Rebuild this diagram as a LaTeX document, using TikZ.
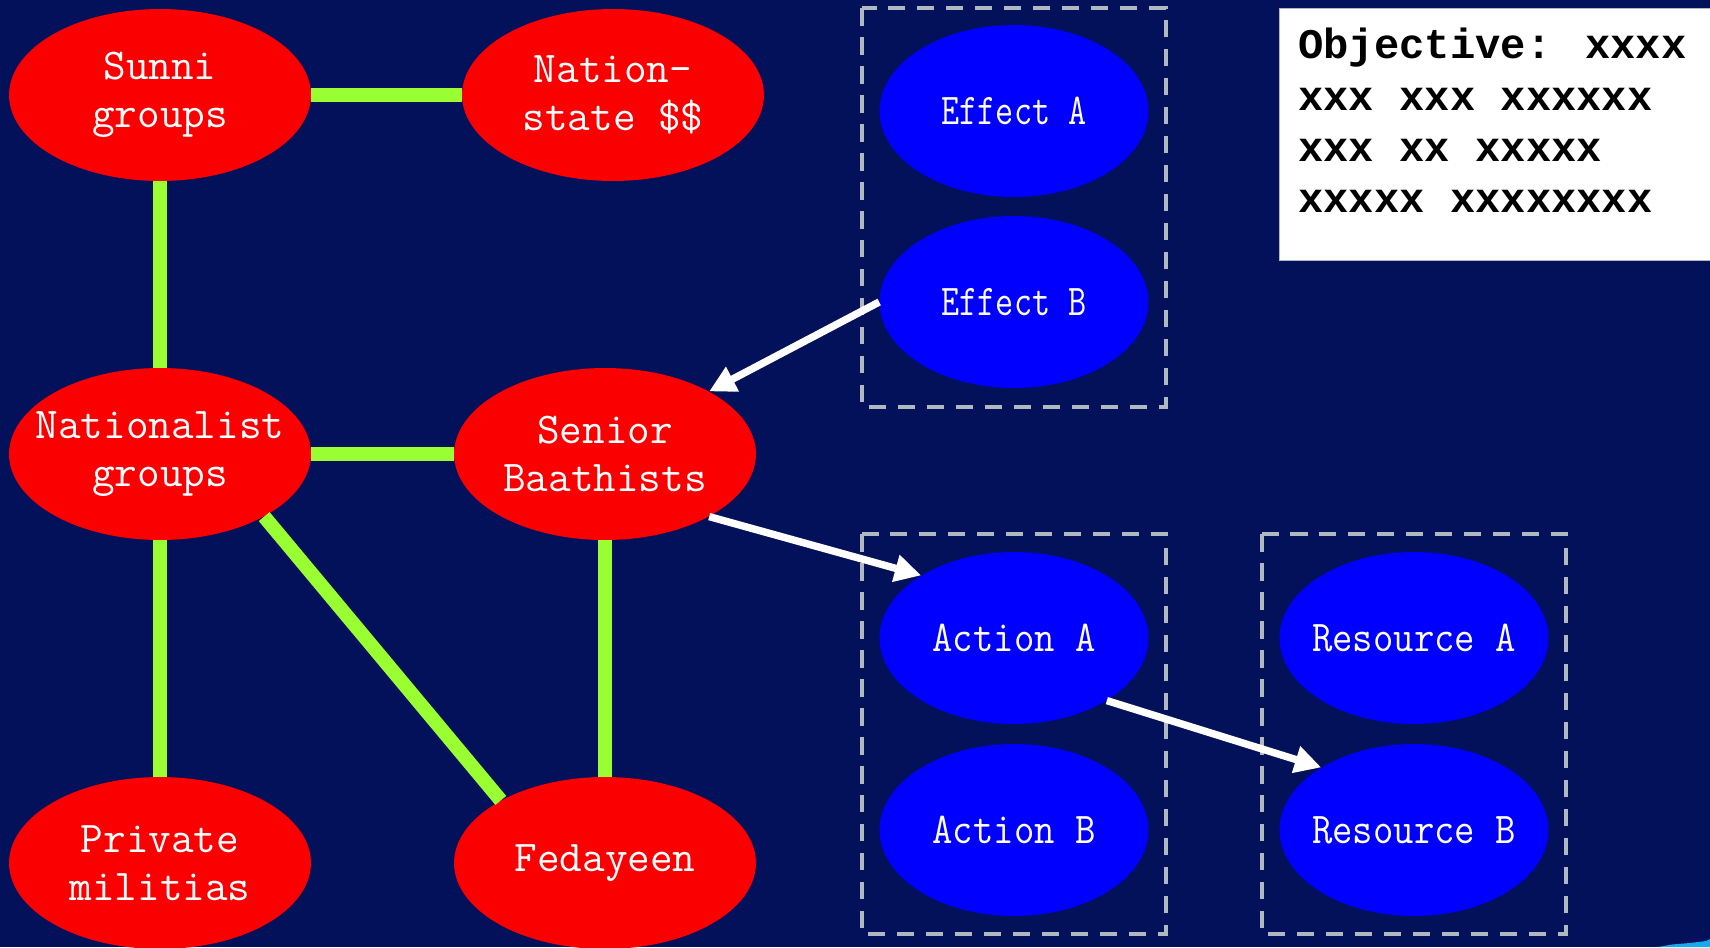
\documentclass[tikz,border=0pt]{standalone}
\usepackage{fontspec}
\usetikzlibrary{arrows.meta,shapes.geometric}
\newfontfamily\lblfont{Latin Modern Mono}
\newfontfamily\lblnarrow{Latin Modern Mono}[FakeStretch=0.9]
\newfontfamily\lblnarrower{Latin Modern Mono}[FakeStretch=0.8]
\newfontfamily\objfont{Liberation Mono}
\definecolor{bg}{RGB}{2,17,90}
\definecolor{nodered}{RGB}{250,0,0}
\definecolor{nodeblue}{RGB}{0,0,255}
\definecolor{linkgreen}{RGB}{153,255,51}
\definecolor{dashgray}{RGB}{176,184,192}
\definecolor{logocyan}{RGB}{20,170,235}
\begin{document}
\begin{tikzpicture}[x=0.02cm,y=-0.02cm,
  redell/.style={ellipse, fill=nodered, minimum width=6.04cm, minimum height=3.44cm, inner sep=0pt},
  blueell/.style={ellipse, fill=nodeblue, minimum width=5.38cm, minimum height=3.44cm, inner sep=0pt},
  redlbl/.style={text=white, font=\lblfont\fontsize{25}{27}\selectfont, align=center, inner sep=0pt},
  bluelbl/.style={text=white, font=\lblnarrow\fontsize{25}{27}\selectfont, align=center, inner sep=0pt},
  effectlbl/.style={text=white, font=\lblnarrower\fontsize{25}{27}\selectfont, align=center, inner sep=0pt},
  link/.style={draw=linkgreen, line width=8pt},
  arr/.style={draw=white, line width=4.2pt, -{Triangle[length=15pt,width=15pt]}},
  grp/.style={draw=dashgray, line width=2pt, dash pattern=on 10pt off 6.5pt},
  objbox/.style={fill=white, draw=dashgray, line width=0.5pt, minimum width=8.62cm, minimum height=5.04cm, inner sep=0pt},
  objtext/.style={text=black, font=\objfont\bfseries\fontsize{24}{29.2}\selectfont, align=left, inner sep=0pt},
]
\fill[bg] (0,0) rectangle (1710,947);
\useasboundingbox (0,0) rectangle (1710,947);
\clip (0,0) rectangle (1710,947);

% dashed groups
\draw[grp] (862,8) rectangle (1166,407);
\draw[grp] (862,534) rectangle (1166,934);
\draw[grp] (1262,534) rectangle (1566,934);

% red nodes
\node (sun) [redell, label={[redlbl]center:Sunni\\groups}] at (160,95) {};
\node (nat) [redell, label={[redlbl]center:Nation-\\state \$\$}] at (613,95) {};
\node (nag) [redell, label={[redlbl]center:Nationalist\\groups}] at (160,454) {};
\node (sen) [redell, label={[redlbl]center:Senior\\Baathists}] at (605,454) {};
\node (pri) [redell, label={[redlbl]center:Private\\militias}] at (160,863) {};
\node (fed) [redell, label={[redlbl]center:Fedayeen}] at (605,863) {};

% blue nodes
\node (effA) [blueell, label={[effectlbl]center:Effect A}] at (1014,111) {};
\node (effB) [blueell, label={[effectlbl]center:Effect B}] at (1014,302) {};
\node (actA) [blueell, label={[bluelbl]center:Action A}] at (1014,638) {};
\node (actB) [blueell, label={[bluelbl]center:Action B}] at (1014,830) {};
\node (resA) [blueell, label={[bluelbl]center:Resource A}] at (1414,638) {};
\node (resB) [blueell, label={[bluelbl]center:Resource B}] at (1414,830) {};

% green links
\draw[link] (sun) -- (nat);
\draw[link] (sun) -- (nag);
\draw[link] (nag) -- (sen);
\draw[link] (nag) -- (pri);
\draw[link] (sen) -- (fed);
\draw[link] (nag.-31) -- (fed.149);

% white arrows
\draw[arr] (effB.west) -- (sen.31);
\draw[arr] (sen.-31) -- (actA.146);
\draw[arr] (actA.-34) -- (resB.146);

% objective box
\node (obj) [objbox, anchor=north west] at (1279,8) {};
\node (objt) [objtext, anchor=north west] at (1298,28) {Objective: xxxx\\xxx xxx xxxxxx\\xxx xx xxxxx\\xxxxx xxxxxxxx};

% logo fragment
\fill[logocyan] (1658,947) -- (1672,944.5) -- (1690,943) -- (1706,941) -- (1710,939) -- (1710,947) -- cycle;
\end{tikzpicture}
\end{document}
